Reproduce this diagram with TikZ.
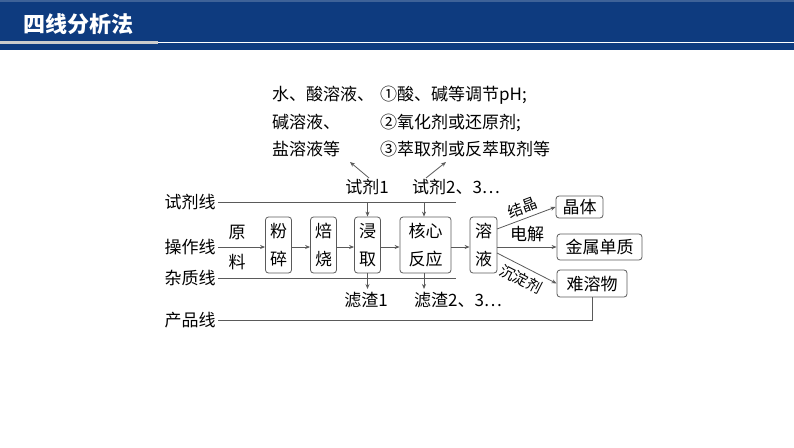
\documentclass[tikz,border=0pt]{standalone}
\usepackage{fontspec}
\setmainfont{Liberation Serif}
\newfontfamily\cjk{Noto Sans CJK SC}
\usetikzlibrary{arrows.meta}
\definecolor{hdr}{RGB}{14,59,127}
\definecolor{ln}{RGB}{90,90,90}
\tikzset{
 t/.style={font=\cjk\fontsize{17}{21}\selectfont,inner sep=0pt},
 bx/.style={draw=ln,rounded corners=3pt,line width=0.8pt,font=\cjk\fontsize{17}{28}\selectfont,align=center,inner sep=3pt},
 ar/.style={draw=ln,line width=0.8pt,-{Stealth[length=5pt,width=4pt]}},
 pl/.style={draw=ln,line width=0.8pt}
}
\begin{document}
\begin{tikzpicture}[x=1pt,y=-1pt]
\useasboundingbox (0,0) rectangle (794,447);
\fill[hdr] (0,0) rectangle (794,50);
\fill[hdr!80!white] (0,0) rectangle (794,2);
\draw[white,line width=0.8pt] (0,42) -- (794,42);
\fill[gray!40] (0,41) rectangle (158,44);
\node[font=\cjk\bfseries\fontsize{22}{24}\selectfont,text=white,anchor=west] (title) at (20,24) {四线分析法};
% labels
\node[t] (l1) at (190,202) {试剂线};
\node[t] (l2) at (190,247) {操作线};
\node[t] (l3) at (190,278) {杂质线};
\node[t] (l4) at (190,320) {产品线};
\node[t,align=center,font=\cjk\fontsize{17}{30}\selectfont] (raw) at (237,247) {原\\料};
\node[bx,minimum width=26pt,minimum height=56pt] (b1) at (278.5,245) {粉\\碎};
\node[bx,minimum width=26pt,minimum height=56pt] (b2) at (323.5,245) {焙\\烧};
\node[bx,minimum width=26pt,minimum height=56pt] (b3) at (367.5,245) {浸\\取};
\node[bx,minimum width=51pt,minimum height=56pt] (b4) at (425.5,245) {核心\\反应};
\node[bx,minimum width=27pt,minimum height=56pt] (b5) at (483.5,245) {溶\\液};
\node[bx,minimum width=47pt,minimum height=22pt,inner sep=1pt] (p1) at (579.5,207) {晶体};
\node[bx,minimum width=85pt,minimum height=26pt,inner sep=1pt] (p2) at (599.5,247) {金属单质};
\node[bx,minimum width=70pt,minimum height=27pt,inner sep=1pt] (p3) at (592,283.5) {难溶物};
% lines
\coordinate (s1) at (218,202); \coordinate (s2) at (456,202);
\coordinate (o1) at (218,247);
\coordinate (z1) at (218,278); \coordinate (z2) at (456,278);
\coordinate (c1) at (218,320); \coordinate (c2) at (592,320);
\coordinate (k1) at (424,202); \coordinate (k2) at (424,289);
\coordinate (j1) at (367.5,289);
\draw[pl] (s1) -- (s2);
\draw[pl] (z1) -- (z2);
\draw[pl] (c1) -- (c2) -- (p3.south);
\draw[ar] (o1) -- (b1.west|-o1);
\draw[ar] (b1.east|-o1) -- (b2.west|-o1);
\draw[ar] (b2.east|-o1) -- (b3.west|-o1);
\draw[ar] (b3.east|-o1) -- (b4.west|-o1);
\draw[ar] (b4.east|-o1) -- (b5.west|-o1);
\draw[ar] (b5.east|-o1) -- node[t,above=5pt] {电解} (p2.west);
\draw[ar] (497,229) -- node[t,above=4pt,sloped,font=\cjk\fontsize{15}{18}\selectfont] {结晶} (p1.west);
\draw[ar] (497,253) -- node[t,below=5pt,sloped,font=\cjk\fontsize{15}{18}\selectfont] {沉淀剂} (p3.west);
% reagents
\node[t] (r1) at (367,187) {试剂1};
\node[t] (r2) at (456,187) {试剂2、3…};
\draw[ar] (b3.north|-s1) -- (b3.north);
\draw[ar] (k1) -- (k1|-b4.north);
\node[t] (f1) at (366,300) {滤渣1};
\node[t] (f2) at (458,300) {滤渣2、3…};
\draw[ar] (b3.south) -- (j1);
\draw[ar] (k2|-b4.south) -- (k2);
% top texts
\node[t,align=left,anchor=north west,font=\cjk\fontsize{17}{27.5}\selectfont] (tl) at (272,86) {水、酸溶液、\\碱溶液、\\盐溶液等};
\node[t,align=left,anchor=north west,font=\cjk\fontsize{17}{27.5}\selectfont] (tr) at (380,86) {①酸、碱等调节pH;\\②氧化剂或还原剂;\\③萃取剂或反萃取剂等};
\coordinate (a1) at (350,162); \coordinate (a2) at (446,162);
\draw[ar] (r1.north) ++(2,-1) -- (a1);
\draw[ar] (r2.north) ++(-30,-1) -- (a2);
\end{tikzpicture}
\end{document}
